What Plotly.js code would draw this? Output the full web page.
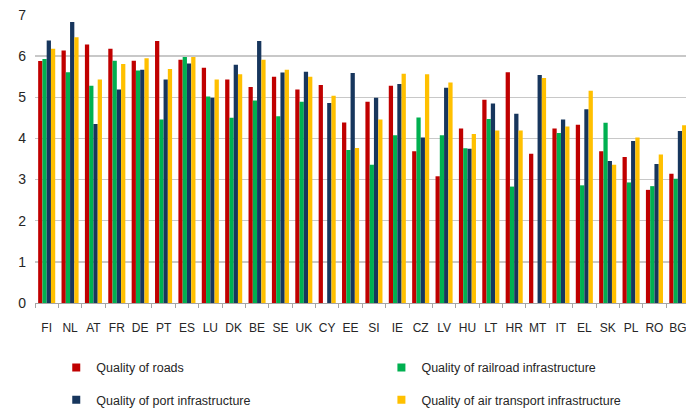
<!DOCTYPE html>
<html>
<head>
<meta charset="utf-8">
<script src="https://cdn.plot.ly/plotly-3.0.1.min.js"></script>
<style>
  html, body { margin: 0; padding: 0; background: #fff; }
  #chart { width: 686px; height: 412px; }
</style>
</head>
<body>
<div id="chart"></div>
<script>
// EU member states, ordered as in the ranking
const countries = ["FI","NL","AT","FR","DE","PT","ES","LU","DK","BE","SE","UK","CY","EE",
                   "SI","IE","CZ","LV","HU","LT","HR","MT","IT","EL","SK","PL","RO","BG"];

// Scores (1-7 scale) per infrastructure type
const roads    = [5.88,6.14,6.28,6.18,5.89,6.37,5.91,5.72,5.43,5.25,5.50,5.19,5.30,4.39,
                  4.89,5.28,3.69,3.08,4.24,4.94,5.61,3.63,4.24,4.33,3.69,3.55,2.75,3.14];
const railroad = [5.93,5.61,5.28,5.89,5.65,4.46,5.98,5.02,4.50,4.92,4.54,4.89,null,3.72,
                  3.36,4.08,4.51,4.08,3.76,4.47,2.83,null,4.13,2.86,4.38,2.93,2.84,3.02];
const port     = [6.38,6.83,4.35,5.19,5.67,5.43,5.82,4.99,5.79,6.37,5.60,5.62,4.86,5.59,
                  4.99,5.32,4.02,5.23,3.75,4.85,4.60,5.54,4.46,4.71,3.45,3.94,3.38,4.18];
const air      = [6.18,6.46,5.43,5.81,5.95,5.69,5.98,5.43,5.56,5.91,5.67,5.50,5.04,3.77,
                  4.46,5.57,5.56,5.36,4.11,4.19,4.19,5.47,4.29,5.16,3.36,4.02,3.61,4.32];

const seriesNames  = ["Quality of roads","Quality of railroad infrastructure",
                      "Quality of port infrastructure","Quality of air transport infrastructure"];
const seriesValues = [roads, railroad, port, air];
const seriesColors = ["#C00000","#00B050","#17365D","#FFC000"];

const FONT = '"Liberation Sans", Arial, sans-serif';

// grouped bars, one trace per infrastructure type
const bars = seriesValues.map((vals, i) => ({
  type: "bar",
  name: seriesNames[i],
  x: countries,
  y: vals,
  marker: { color: seriesColors[i] },
  showlegend: false,
  hoverinfo: "x+y+name"
}));

// legend entries with small square keys, each in its own legend box
const legendKeys = seriesNames.map((name, i) => ({
  type: "scatter",
  mode: "markers",
  name: name,
  x: [null],
  y: [null],
  marker: { symbol: "square", size: 8, color: seriesColors[i] },
  legend: i === 0 ? "legend" : "legend" + (i + 1),
  hoverinfo: "skip"
}));

// legend boxes placed relative to the whole figure so they do not resize the plot
const legendBox = (x, y) => ({
  x: x, y: y,
  xref: "container", yref: "container",
  xanchor: "left", yanchor: "middle",
  orientation: "h",
  font: { family: FONT, size: 12.5, color: "#262626" },
  bgcolor: "rgba(0,0,0,0)",
  itemclick: false, itemdoubleclick: false
});

const layout = {
  width: 686,
  height: 412,
  margin: { l: 35, r: 0, t: 15, b: 109 },
  paper_bgcolor: "#fff",
  plot_bgcolor: "#fff",
  barmode: "group",
  bargap: 0.27,
  bargroupgap: 0,
  showlegend: true,
  font: { family: FONT, color: "#262626" },
  xaxis: {
    type: "category",
    range: [-0.5, 27.35],
    tickson: "boundaries",
    ticks: "outside",
    ticklen: 4,
    tickcolor: "#A6A6A6",
    showline: true,
    linecolor: "#A6A6A6",
    linewidth: 1,
    showgrid: false,
    tickangle: 0,
    tickfont: { family: FONT, size: 12, color: "#262626" },
    ticklabelstandoff: 14,
    fixedrange: true
  },
  yaxis: {
    range: [0, 7],
    dtick: 1,
    showgrid: true,
    gridcolor: "#C8C8C8",
    gridwidth: 1.5,
    zeroline: false,
    showline: false,
    ticks: "",
    tickfont: { family: FONT, size: 14, color: "#262626" },
    ticklabelstandoff: 8,
    fixedrange: true
  },
  legend:  legendBox(0.082, 0.107),
  legend2: legendBox(0.556, 0.107),
  legend3: legendBox(0.082, 0.029),
  legend4: legendBox(0.556, 0.029)
};

Plotly.newPlot("chart", bars.concat(legendKeys), layout, { displayModeBar: false, staticPlot: true });
</script>
</body>
</html>
